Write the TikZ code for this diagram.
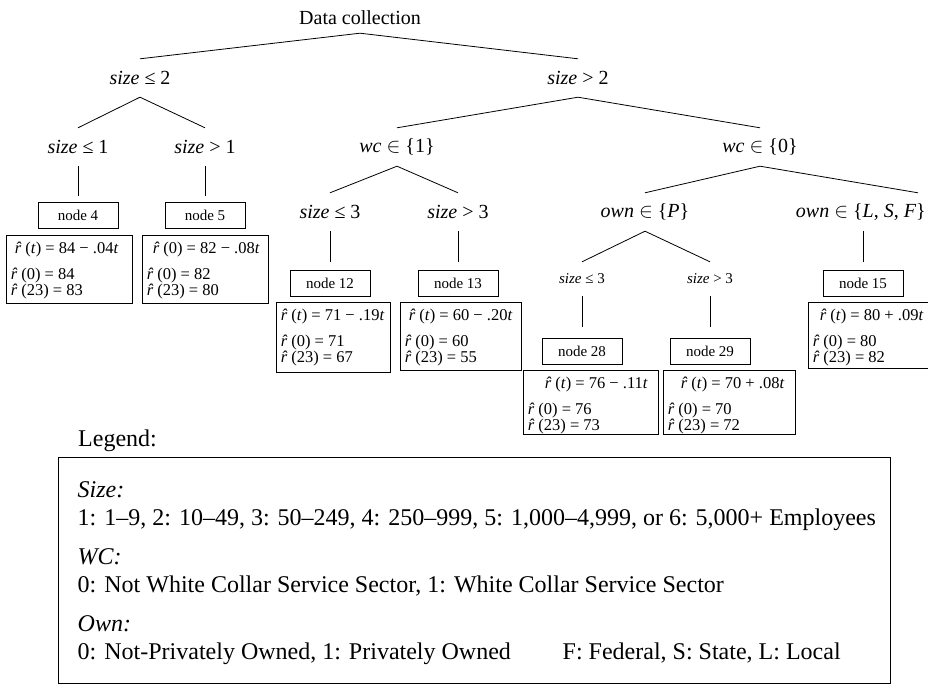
\documentclass[tikz,border=0pt]{standalone}
\usepackage{fontspec}
\setmainfont{Liberation Serif}
\usetikzlibrary{calc}

% hat-r used in the regression boxes
\newcommand\rh{\textit{\accent"02C6 r}}

\tikzset{
  lbl/.style={font=\fontsize{20}{22}\selectfont, inner sep=0pt, minimum height=38pt},
  rootlbl/.style={font=\fontsize{20}{22}\selectfont, inner sep=0pt, minimum height=30pt},
  slbl/.style={font=\fontsize{15}{17}\selectfont, inner sep=0pt, minimum height=34pt},
  nbox/.style={draw, line width=0.8pt, font=\fontsize{15}{17}\selectfont,
    minimum width=80pt, minimum height=26pt, inner sep=0pt},
  fbox/.style={draw, line width=0.8pt, inner sep=0pt},
  ftxt/.style={font=\fontsize{16.5}{18}\selectfont, inner sep=0pt, anchor=base west},
  edge/.style={line width=0.8pt},
  lgd/.style={font=\fontsize{24}{27}\selectfont, inner sep=0pt, anchor=base west}
}

% regression box: name, left, top, width, height, first-line indent, equation, r(0), r(23)
\newcommand\fbx[9]{%
  \node[fbox, minimum width=#4pt, minimum height=#5pt] (#1) at (#2+#4/2, #3+#5/2) {};
  \node[ftxt] (#1a) at ($(#1.north west)+(#6,19)$) {#7};
  \node[ftxt] (#1b) at ($(#1.north west)+(5,45)$) {\rh{} (0) = #8};
  \node[ftxt] (#1c) at ($(#1.north west)+(5,61)$) {\rh{} (23) = #9};
}

\begin{document}
\begin{tikzpicture}[x=1pt, y=-1pt]
\clip (0,0) rectangle (928,685);

% tree labels
\node[rootlbl] (root) at (360,18) {Data collection};
\node[lbl] (s2)  at (140,78) {\textit{size} ≤ 2};
\node[lbl] (g2)  at (578,78) {\textit{size} > 2};
\node[lbl] (s1)  at (78,147) {\textit{size} ≤ 1};
\node[lbl] (g1)  at (205,147) {\textit{size} > 1};
\node[lbl] (wc1) at (397,147) {\textit{wc} $\in$ \{1\}};
\node[lbl] (wc0) at (760,147) {\textit{wc} $\in$ \{0\}};
\node[lbl] (s3)  at (330,212) {\textit{size} ≤ 3};
\node[lbl] (g3)  at (458,212) {\textit{size} > 3};
\node[lbl] (ownp) at (645,212) {\textit{own} $\in$ \{\textit{P}\}};
\node[lbl, anchor=east] (ownl) at (926,212) {\textit{own} $\in$ \{\textit{L}, \textit{S}, \textit{F}\}};
\node[slbl] (ps3) at (582,279) {\textit{size} ≤ 3};
\node[slbl] (pg3) at (710,279) {\textit{size} > 3};

% leaf boxes
\node[nbox] (n4)  at (78,215)  {node 4};
\node[nbox] (n5)  at (205,215) {node 5};
\node[nbox] (n12) at (330,283) {node 12};
\node[nbox] (n13) at (458,283) {node 13};
\node[nbox] (n15) at (863,283) {node 15};
\node[nbox] (n28) at (582,351) {node 28};
\node[nbox] (n29) at (710,351) {node 29};

% regression boxes
\fbx{f4}{6}{235}{126}{68}{9}{\rh{} (\textit{t}) = 84 − .04\textit{t}}{84}{83}
\fbx{f5}{142}{235}{126}{68}{11}{\rh{} (0) = 82 − .08\textit{t}}{82}{80}
\fbx{f12}{276}{302}{114}{70}{5}{\rh{} (\textit{t}) = 71 − .19\textit{t}}{71}{67}
\fbx{f13}{400}{302}{121}{68}{9}{\rh{} (\textit{t}) = 60 − .20\textit{t}}{60}{55}
\fbx{f15}{808}{302}{130}{66}{12}{\rh{} (\textit{t}) = 80 + .09\textit{t}}{80}{82}
\fbx{f28}{523}{370}{135}{64}{22}{\rh{} (\textit{t}) = 76 − .11\textit{t}}{76}{73}
\fbx{f29}{663}{370}{132}{64}{18}{\rh{} (\textit{t}) = 70 + .08\textit{t}}{70}{72}

% connectors
\draw[edge] (root.south) -- (s2.north);
\draw[edge] (root.south) -- (g2.north);
\draw[edge] (s2.south) -- (s1.north);
\draw[edge] (s2.south) -- (g1.north);
\draw[edge] (g2.south) -- (wc1.north);
\draw[edge] (g2.south) -- (wc0.north);
\draw[edge] (wc1.south) -- (s3.north);
\draw[edge] (wc1.south) -- (g3.north);
\draw[edge] (wc0.south) -- (ownp.north);
\draw[edge] (wc0.south) -- ([xshift=-8pt]ownl.north east);
\draw[edge] (ownp.south) -- (ps3.north);
\draw[edge] (ownp.south) -- (pg3.north);
\draw[edge, shorten >=6pt] (s1.south) -- (n4.north);
\draw[edge, shorten >=6pt] (g1.south) -- (n5.north);
\draw[edge, shorten >=8pt] (s3.south) -- (n12.north);
\draw[edge, shorten >=8pt] (g3.south) -- (n13.north);
\draw[edge, shorten >=8pt] (ownl.south -| n15.north) -- (n15.north);
\draw[edge, shorten >=11pt] (ps3.south) -- (n28.north);
\draw[edge, shorten >=11pt] (pg3.south) -- (n29.north);

% legend
\node[lgd] (lgtitle) at (78,446) {Legend:};
\node[draw, line width=1pt, minimum width=832pt, minimum height=226pt, inner sep=0pt]
  (lgbox) at (474,570) {};
\node[lgd] (lsz) at ($(lgbox.north west)+(20,41)$) {\textit{Size:}};
\node[lgd] (lsz1) at ($(lgbox.north west)+(20,69)$)
  {1: 1–9, 2: 10–49, 3: 50–249, 4: 250–999, 5: 1,000–4,999, or 6: 5,000+ Employees};
\node[lgd] (lwc) at ($(lgbox.north west)+(20,108)$) {\textit{WC:}};
\node[lgd] (lwc1) at ($(lgbox.north west)+(20,136)$)
  {0: Not White Collar Service Sector, 1: White Collar Service Sector};
\node[lgd] (low) at ($(lgbox.north west)+(20,175)$) {\textit{Own:}};
\node[lgd] (low1) at ($(lgbox.north west)+(20,203)$) {0: Not-Privately Owned, 1: Privately Owned};
\node[lgd] (low2) at ($(lgbox.north west)+(505,203)$) {F: Federal, S: State, L: Local};
\end{tikzpicture}
\end{document}
